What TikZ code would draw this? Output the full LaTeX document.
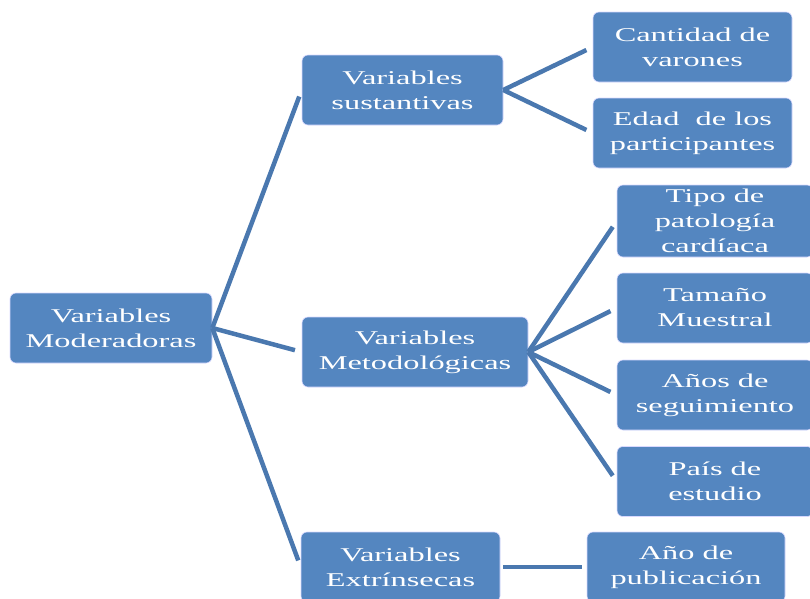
\documentclass[tikz,border=0pt]{standalone}
\usepackage{fontspec}
\setmainfont{Liberation Serif}[FakeStretch=1.66]
\begin{document}
\begin{tikzpicture}[x=1pt,y=-1pt,
  box/.style={draw=white!85!blue, line width=0.6pt, fill=boxfill, rounded corners=6pt,
    text=white, align=center, inner sep=0pt,
    font=\fontsize{19.5}{25}\selectfont},
  link/.style={draw=linkcol, line width=4.5pt, shorten >=7pt}]
\definecolor{boxfill}{RGB}{84,134,192}
\definecolor{linkcol}{RGB}{74,120,175}
\useasboundingbox (0,0) rectangle (810,598);
\clip (0,0) rectangle (810,598);
% nodes
\node[box, minimum width=202, minimum height=70] (root) at (111,328) {Variables\\Moderadoras};
\node[box, minimum width=201, minimum height=70] (sus) at (402.5,90) {Variables\\sustantivas};
\node[box, minimum width=226, minimum height=70] (met) at (415,352) {Variables\\Metodológicas};
\node[box, minimum width=199, minimum height=70] (ext) at (400.5,567) {Variables\\Extrínsecas};
\node[box, minimum width=199, minimum height=70] (can) at (692.5,47) {Cantidad de\\varones};
\node[box, minimum width=199, minimum height=70] (eda) at (692.5,133) {Edad~ de los\\participantes};
\node[box, minimum width=196, minimum height=72] (tip) at (715,221) {Tipo de\\patología\\cardíaca};
\node[box, minimum width=196, minimum height=70] (tam) at (715,308) {Tamaño\\Muestral};
\node[box, minimum width=196, minimum height=70] (ano) at (715,395) {Años de\\seguimiento};
\node[box, minimum width=196, minimum height=70] (pai) at (715,481.5) {País de\\estudio};
\node[box, minimum width=198, minimum height=70] (pub) at (686,567) {Año de\\publicación};
% connectors
\begin{scope}[line cap=butt]
\draw[link] (root.east) -- (sus.west);
\draw[link] (root.east) -- (met.west);
\draw[link] (root.east) -- (ext.west);
\draw[link] (sus.east) -- (can.west);
\draw[link] (sus.east) -- (eda.west);
\draw[link] (met.east) -- (tip.west);
\draw[link] (met.east) -- (tam.west);
\draw[link] (met.east) -- (ano.west);
\draw[link] (met.east) -- (pai.west);
\draw[link, shorten <=3pt, shorten >=5pt] (ext.east) -- (pub.west);
\end{scope}
\end{tikzpicture}
\end{document}
